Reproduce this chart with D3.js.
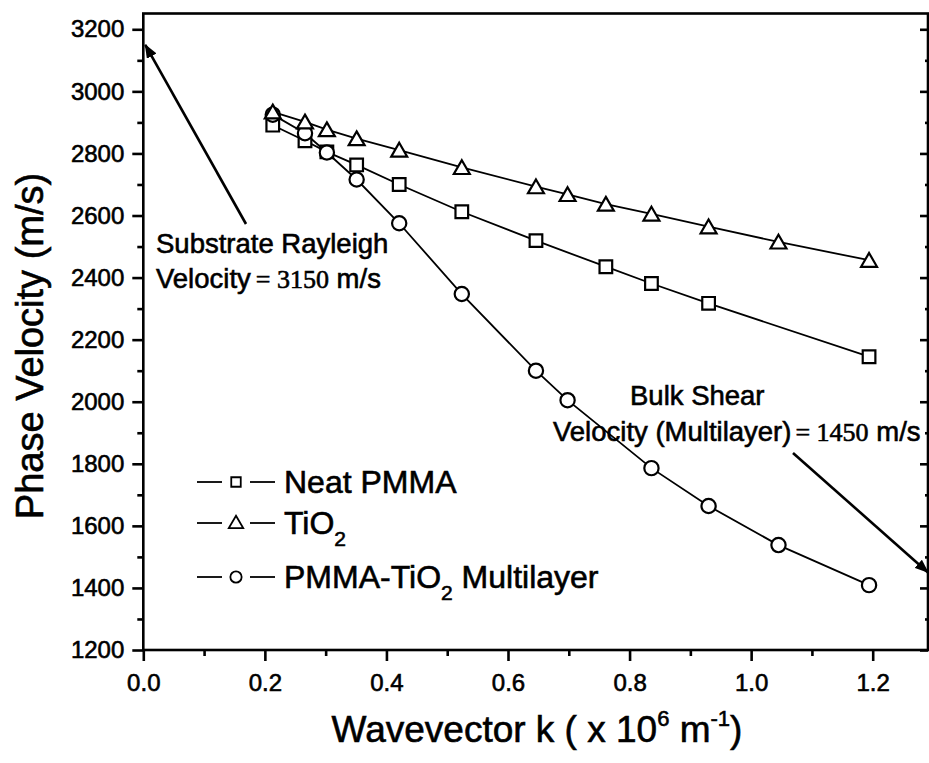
<!DOCTYPE html>
<html>
<head>
<meta charset="utf-8">
<script src="https://cdn.jsdelivr.net/npm/d3@7"></script>
<style>
  html, body { margin: 0; padding: 0; background: #fff; }
  svg { display: block; }
  text { font-family: "Liberation Sans", Arial, sans-serif; fill: #000; stroke: #000; stroke-width: 0.6px; }
</style>
</head>
<body>
<svg id="chart" width="929" height="763"></svg>
<script>
// Phase velocity vs. wavevector for three film samples
const kNeat  = [0.213, 0.266, 0.302, 0.351, 0.421, 0.524, 0.646, 0.761, 0.836, 0.930, 1.194];
const vNeat  = [2891, 2841, 2805, 2763, 2700, 2612, 2519, 2435, 2381, 2317, 2145];

const kTiO2  = [0.213, 0.266, 0.302, 0.351, 0.421, 0.524, 0.646, 0.698, 0.761, 0.836, 0.930, 1.045, 1.194];
const vTiO2  = [2934, 2902, 2877, 2848, 2811, 2755, 2693, 2668, 2637, 2605, 2564, 2515, 2456];

const kMulti = [0.213, 0.266, 0.302, 0.351, 0.421, 0.524, 0.646, 0.698, 0.836, 0.930, 1.045, 1.194];
const vMulti = [2925, 2865, 2803, 2716, 2575, 2347, 2100, 2005, 1786, 1664, 1538, 1409];

const xTicks = [0.0, 0.2, 0.4, 0.6, 0.8, 1.0, 1.2];
const yTicks = [1200, 1400, 1600, 1800, 2000, 2200, 2400, 2600, 2800, 3000, 3200];

const rayleighVelocity = 3150;
const shearVelocity = 1450;

const svg = d3.select("#chart");
const plotLeft = 143.3, plotRight = 928, plotTop = 13.5, plotBottom = 650;

const x = d3.scaleLinear().domain([0, 1.2]).range([plotLeft, 872.7]);
const xMax = x.invert(plotRight);
x.domain([0, xMax]).range([plotLeft, plotRight]);
const y = d3.scaleLinear().domain([1200, 3200]).range([plotBottom, 29.3]);
const yMax = y.invert(plotTop);
y.domain([1200, yMax]).range([plotBottom, plotTop]);

const minorX = d3.range(0.1, xMax, 0.2);
const minorY = d3.range(1300, yMax, 200);

// Frame
svg.append("rect")
  .attr("x", plotLeft).attr("y", plotTop)
  .attr("width", plotRight - plotLeft).attr("height", plotBottom - plotTop)
  .attr("fill", "none").attr("stroke", "#000").attr("stroke-width", 2.6);

// Left axis: outward ticks
const gl = svg.append("g").attr("transform", `translate(${plotLeft},0)`);
gl.call(d3.axisLeft(y).tickValues(yTicks).tickSize(11).tickPadding(8).tickFormat(d3.format("d")));
gl.append("g").call(d3.axisLeft(y).tickValues(minorY).tickSize(6).tickFormat(""));
gl.selectAll(".domain").remove();
gl.selectAll("line").attr("stroke", "#000").attr("stroke-width", 2.6);
gl.selectAll("text").attr("font-size", 24).attr("font-family", '"Liberation Sans", Arial, sans-serif');

// Bottom axis: outward ticks
const gb = svg.append("g").attr("transform", `translate(0,${plotBottom})`);
gb.call(d3.axisBottom(x).tickValues(xTicks).tickSize(11).tickPadding(13).tickFormat(d3.format(".1f")));
gb.append("g").call(d3.axisBottom(x).tickValues(minorX).tickSize(6).tickFormat(""));
gb.selectAll(".domain").remove();
gb.selectAll("line").attr("stroke", "#000").attr("stroke-width", 2.6);
gb.selectAll("text").attr("font-size", 24).attr("font-family", '"Liberation Sans", Arial, sans-serif');

// Right axis: inward ticks
const gr = svg.append("g").attr("transform", `translate(${plotRight},0)`);
gr.call(d3.axisRight(y).tickValues(yTicks).tickSize(-8).tickFormat(""));
gr.append("g").call(d3.axisRight(y).tickValues(minorY).tickSize(-3).tickFormat(""));
gr.selectAll(".domain").remove();
gr.selectAll("line").attr("stroke", "#000").attr("stroke-width", 2.6);

// Axis titles
svg.append("text")
  .attr("transform", "translate(43,346) rotate(-90)")
  .attr("text-anchor", "middle").attr("font-size", 38)
  .text("Phase Velocity (m/s)");

const xt = svg.append("text")
  .attr("x", 537).attr("y", 742)
  .attr("text-anchor", "middle").attr("font-size", 37);
xt.append("tspan").text("Wavevector k ( x 10");
xt.append("tspan").attr("font-size", 22).attr("dy", -16).text("6");
xt.append("tspan").attr("dy", 16).text(" m");
xt.append("tspan").attr("font-size", 22).attr("dy", -16).text("-1");
xt.append("tspan").attr("dy", 16).text(")");

// Series lines and markers
const line = d3.line().x(d => x(d[0])).y(d => y(d[1]));
const zip = (ks, vs) => ks.map((k, i) => [k, vs[i]]);

const series = [
  { data: zip(kNeat, vNeat), shape: "square" },
  { data: zip(kMulti, vMulti), shape: "circle" },
  { data: zip(kTiO2, vTiO2), shape: "triangle" }
];

const symbolType = { square: d3.symbolSquare, triangle: d3.symbolTriangle, circle: d3.symbolCircle };
const symbolPath = {
  square: d3.symbol().type(d3.symbolSquare).size(160)(),
  triangle: d3.symbol().type(d3.symbolTriangle).size(110)(),
  circle: d3.symbol().type(d3.symbolCircle).size(160)()
};

series.forEach(s => {
  svg.append("path")
    .datum(s.data)
    .attr("d", line)
    .attr("fill", "none").attr("stroke", "#000").attr("stroke-width", 1.8);
});
series.forEach(s => {
  svg.append("g").selectAll("path")
    .data(s.data).join("path")
    .attr("transform", d => `translate(${x(d[0])},${y(d[1]) + (s.shape === "triangle" ? 2 : 0)})`)
    .attr("d", symbolPath[s.shape])
    .attr("fill", "#fff").attr("stroke", "#000").attr("stroke-width", 2.2);
});

// Legend
const legendRows = [
  { shape: "square", y: 482, label: ["Neat PMMA"] },
  { shape: "triangle", y: 523, label: ["TiO", "2", ""] },
  { shape: "circle", y: 577, label: ["PMMA-TiO", "2", " Multilayer"] }
];
legendRows.forEach(r => {
  const g = svg.append("g").attr("transform", `translate(197,${r.y})`);
  g.append("line").attr("x1", 0).attr("x2", 25).attr("stroke", "#000").attr("stroke-width", 1.8);
  g.append("line").attr("x1", 53).attr("x2", 78).attr("stroke", "#000").attr("stroke-width", 1.8);
  g.append("path")
    .attr("transform", `translate(39,${r.shape === "triangle" ? 1 : 0})`)
    .attr("d", d3.symbol().type(symbolType[r.shape]).size(r.shape === "circle" ? 100 : 90)())
    .attr("fill", "#fff").attr("stroke", "#000").attr("stroke-width", 1.8);
  const t = g.append("text").attr("x", 87).attr("y", 11).attr("font-size", 32);
  t.append("tspan").text(r.label[0]);
  if (r.label.length > 1) {
    t.append("tspan").attr("font-size", 21).attr("dy", 12).text(r.label[1]);
    t.append("tspan").attr("dy", -12).text(r.label[2]);
  }
});

// Annotation arrows
const defs = svg.append("defs");
defs.append("marker")
  .attr("id", "head").attr("viewBox", "0 0 14 11")
  .attr("refX", 13).attr("refY", 5.5)
  .attr("markerWidth", 14).attr("markerHeight", 11)
  .attr("markerUnits", "userSpaceOnUse")
  .attr("orient", "auto")
  .append("path").attr("d", "M0,0 L14,5.5 L0,11 Z").attr("fill", "#000");

svg.append("line")
  .attr("x1", 246).attr("y1", 224)
  .attr("x2", x(0) + 2).attr("y2", y(rayleighVelocity))
  .attr("stroke", "#000").attr("stroke-width", 2.6)
  .attr("marker-end", "url(#head)");

svg.append("line")
  .attr("x1", 793).attr("y1", 453)
  .attr("x2", plotRight).attr("y2", y(shearVelocity))
  .attr("stroke", "#000").attr("stroke-width", 2.6)
  .attr("marker-end", "url(#head)");

// Annotation texts
const serif = '"Liberation Serif", "Times New Roman", serif';
svg.append("text").attr("x", 156).attr("y", 253).attr("font-size", 27.5).text("Substrate Rayleigh");
const r2 = svg.append("text").attr("x", 156).attr("y", 288).attr("font-size", 27.5);
r2.append("tspan").text("Velocity");
r2.append("tspan").attr("dx", 5).attr("font-family", serif).attr("font-size", 26).text("= " + rayleighVelocity);
r2.append("tspan").text(" m/s");

svg.append("text").attr("x", 630).attr("y", 405).attr("font-size", 27.5).text("Bulk Shear");
const s2 = svg.append("text").attr("x", 553).attr("y", 441).attr("font-size", 27.5);
s2.append("tspan").text("Velocity (Multilayer)");
s2.append("tspan").attr("dx", 4).attr("font-family", serif).attr("font-size", 26).text("= " + shearVelocity);
s2.append("tspan").text(" m/s");
</script>
</body>
</html>
